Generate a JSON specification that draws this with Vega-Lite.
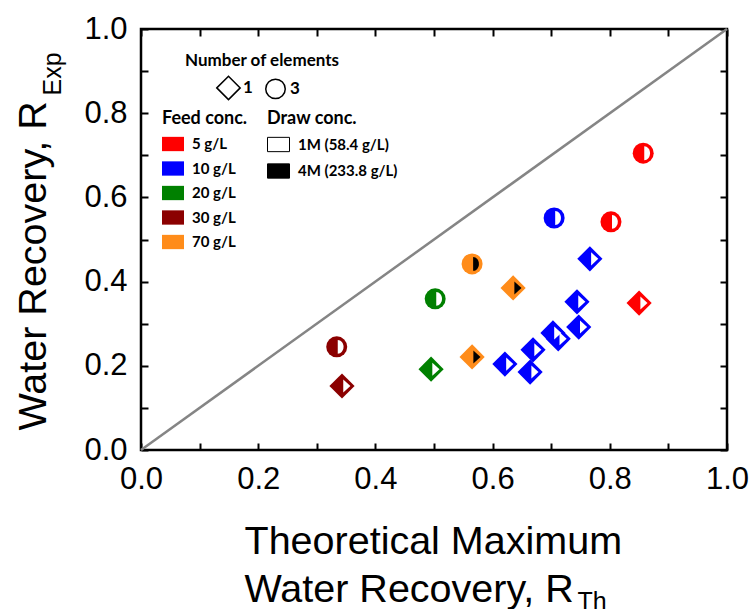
{
  "$schema": "https://vega.github.io/schema/vega-lite/v6.json",
  "width": 586,
  "height": 421,
  "autosize": {"type": "none"},
  "padding": {"left": 141, "top": 29, "right": 23, "bottom": 159},
  "background": "white",
  "title": {"text": "Number of elements", "anchor": "start", "frame": "group", "orient": "top", "offset": 0,
    "baseline": "top", "dx": 44, "dy": 57, "font": "Lato", "fontWeight": "bold", "fontSize": 17, "color": "black"},
  "config": {
    "view": {"stroke": "black", "strokeWidth": 2.5},
    "axis": {
      "grid": false,
      "domain": false,
      "tickColor": "black",
      "tickWidth": 2,
      "tickSize": -7,
      "labelColor": "black",
      "labelFont": "Liberation Sans",
      "labelFontSize": 31,
      "titleColor": "black",
      "titleFont": "Liberation Sans",
      "titleFontWeight": "normal",
      "labelFlush": false,
      "labelOverlap": false
    },
    "legend": {
      "titleFont": "Lato",
      "titleFontWeight": "bold",
      "titleFontSize": 18,
      "titleColor": "black",
      "labelFont": "Lato",
      "labelFontWeight": "bold",
      "labelFontSize": 15,
      "labelColor": "black"
    }
  },
  "resolve": {
    "scale": {"shape": "independent"},
    "axis": {"x": "independent", "y": "independent"}
  },
  "layer": [
    {
      "data": {"values": [{"x": 0, "y": 0, "x2": 1, "y2": 1}]},
      "mark": {"type": "rule", "color": "#858585", "strokeWidth": 2.5},
      "encoding": {
        "x": {"field": "x", "type": "quantitative", "scale": {"domain": [0, 1], "nice": false},
          "axis": {"orient": "top", "labels": false, "values": [0, 0.1, 0.2, 0.3, 0.4, 0.5, 0.6, 0.7, 0.8, 0.9, 1.0],
            "title": "Th", "titleFontSize": 25, "titleAngle": 0, "titleAlign": "left", "titleBaseline": "alphabetic", "titleX": 436, "titleY": 580}},
        "y": {"field": "y", "type": "quantitative", "scale": {"domain": [0, 1], "nice": false},
          "axis": {"orient": "right", "labels": false, "values": [0, 0.1, 0.2, 0.3, 0.4, 0.5, 0.6, 0.7, 0.8, 0.9, 1.0],
            "title": "Exp", "titleFontSize": 25, "titleAngle": 270, "titleAlign": "left", "titleBaseline": "alphabetic", "titleX": -667, "titleY": 66}},
        "x2": {"field": "x2"},
        "y2": {"field": "y2"}
      }
    },
    {
      "data": {"name": "pts"},
      "mark": {"type": "point", "filled": true, "opacity": 1, "size": 441},
      "encoding": {
        "x": {"field": "x", "type": "quantitative",
          "axis": {"orient": "bottom", "values": [0, 0.1, 0.2, 0.3, 0.4, 0.5, 0.6, 0.7, 0.8, 0.9, 1.0],
            "labelExpr": "round(datum.value*10) % 2 == 0 ? format(datum.value, '.1f') : ''",
            "labelPadding": 21,
            "title": ["Theoretical Maximum", "Water Recovery, R"], "titleFontSize": 39.5, "titleLineHeight": 48,
            "titleAlign": "left", "titleBaseline": "alphabetic", "titleX": 103, "titleY": 103}},
        "y": {"field": "y", "type": "quantitative",
          "axis": {"orient": "left", "values": [0, 0.1, 0.2, 0.3, 0.4, 0.5, 0.6, 0.7, 0.8, 0.9, 1.0],
            "labelExpr": "round(datum.value*10) % 2 == 0 ? format(datum.value, '.1f') : ''",
            "labelPadding": 21,
            "title": "Water Recovery, R", "titleFontSize": 39.5, "titleAngle": 270,
            "titleAlign": "left", "titleBaseline": "alphabetic", "titleX": -96, "titleY": 401}},
        "color": {"field": "feed", "type": "nominal",
          "scale": {"domain": ["5 g/L", "10 g/L", "20 g/L", "30 g/L", "70 g/L"],
            "range": ["#FF0000", "#0000FF", "#008000", "#8B0000", "#FF8C1A"]},
          "legend": {"title": "Feed conc.", "orient": "none", "legendX": 21, "legendY": 81,
            "symbolType": "M-1,-0.65H1V0.65H-1Z", "symbolSize": 484, "symbolStrokeWidth": 0,
            "labelOffset": 8, "rowPadding": 5.5, "titlePadding": 5,
            "labelExpr": "length(datum.label) < 6 ? '\u2007' + datum.label : datum.label"}},
        "shape": {"field": "elements", "type": "nominal",
          "scale": {"domain": ["1", "3"], "range": ["M-1.2,0L0,-1.2L1.2,0L0,1.2Z", "circle"]},
          "legend": {"title": null, "orient": "none", "legendX": 77, "legendY": 48,
            "direction": "horizontal", "symbolSize": 380, "symbolFillColor": "white", "symbolStrokeColor": "black",
            "symbolStrokeWidth": 1.5, "labelOffset": 4, "columnPadding": 9,
            "labelFontSize": 17,
            "encode": {"symbols": {"update": {"fill": {"value": "white"}, "stroke": {"value": "black"}, "strokeWidth": {"value": 1.5}}}}}}
      }
    },
    {
      "data": {"name": "pts"},
      "mark": {"type": "point", "filled": true, "opacity": 1, "size": 441, "strokeWidth": 0},
      "encoding": {
        "x": {"field": "x", "type": "quantitative", "axis": null},
        "y": {"field": "y", "type": "quantitative", "axis": null},
        "shape": {"field": "elements", "type": "nominal",
          "scale": {"domain": ["1", "3"], "range": ["M0.12,-0.62L0.8,0L0.12,0.62Z", "M0.1,-0.66A0.55,0.66 0 0 1 0.1,0.66Z"]},
          "legend": null},
        "fill": {"field": "draw", "type": "nominal",
          "scale": {"domain": ["1M (58.4 g/L)", "4M (233.8 g/L)"], "range": ["white", "black"]},
          "legend": {"title": "\u2002Draw conc.", "orient": "none", "legendX": 126, "legendY": 81,
            "symbolType": "M-1,-0.65H1V0.65H-1Z", "symbolSize": 484, "symbolStrokeColor": "black", "symbolStrokeWidth": 1,
            "labelOffset": 8, "rowPadding": 5.5, "titlePadding": 5}}
      }
    }
  ],
  "datasets": {
    "pts": [
      {"x": 0.857, "y": 0.705, "feed": "5 g/L", "elements": "3", "draw": "1M (58.4 g/L)"},
      {"x": 0.802, "y": 0.542, "feed": "5 g/L", "elements": "3", "draw": "1M (58.4 g/L)"},
      {"x": 0.850, "y": 0.349, "feed": "5 g/L", "elements": "1", "draw": "1M (58.4 g/L)"},
      {"x": 0.705, "y": 0.551, "feed": "10 g/L", "elements": "3", "draw": "1M (58.4 g/L)"},
      {"x": 0.766, "y": 0.454, "feed": "10 g/L", "elements": "1", "draw": "1M (58.4 g/L)"},
      {"x": 0.744, "y": 0.352, "feed": "10 g/L", "elements": "1", "draw": "1M (58.4 g/L)"},
      {"x": 0.747, "y": 0.292, "feed": "10 g/L", "elements": "1", "draw": "1M (58.4 g/L)"},
      {"x": 0.703, "y": 0.278, "feed": "10 g/L", "elements": "1", "draw": "1M (58.4 g/L)"},
      {"x": 0.712, "y": 0.264, "feed": "10 g/L", "elements": "1", "draw": "1M (58.4 g/L)"},
      {"x": 0.669, "y": 0.238, "feed": "10 g/L", "elements": "1", "draw": "1M (58.4 g/L)"},
      {"x": 0.664, "y": 0.185, "feed": "10 g/L", "elements": "1", "draw": "1M (58.4 g/L)"},
      {"x": 0.621, "y": 0.204, "feed": "10 g/L", "elements": "1", "draw": "1M (58.4 g/L)"},
      {"x": 0.502, "y": 0.359, "feed": "20 g/L", "elements": "3", "draw": "1M (58.4 g/L)"},
      {"x": 0.495, "y": 0.192, "feed": "20 g/L", "elements": "1", "draw": "1M (58.4 g/L)"},
      {"x": 0.334, "y": 0.245, "feed": "30 g/L", "elements": "3", "draw": "1M (58.4 g/L)"},
      {"x": 0.343, "y": 0.152, "feed": "30 g/L", "elements": "1", "draw": "1M (58.4 g/L)"},
      {"x": 0.565, "y": 0.442, "feed": "70 g/L", "elements": "3", "draw": "4M (233.8 g/L)"},
      {"x": 0.635, "y": 0.385, "feed": "70 g/L", "elements": "1", "draw": "4M (233.8 g/L)"},
      {"x": 0.565, "y": 0.221, "feed": "70 g/L", "elements": "1", "draw": "4M (233.8 g/L)"}
    ]
  }
}
